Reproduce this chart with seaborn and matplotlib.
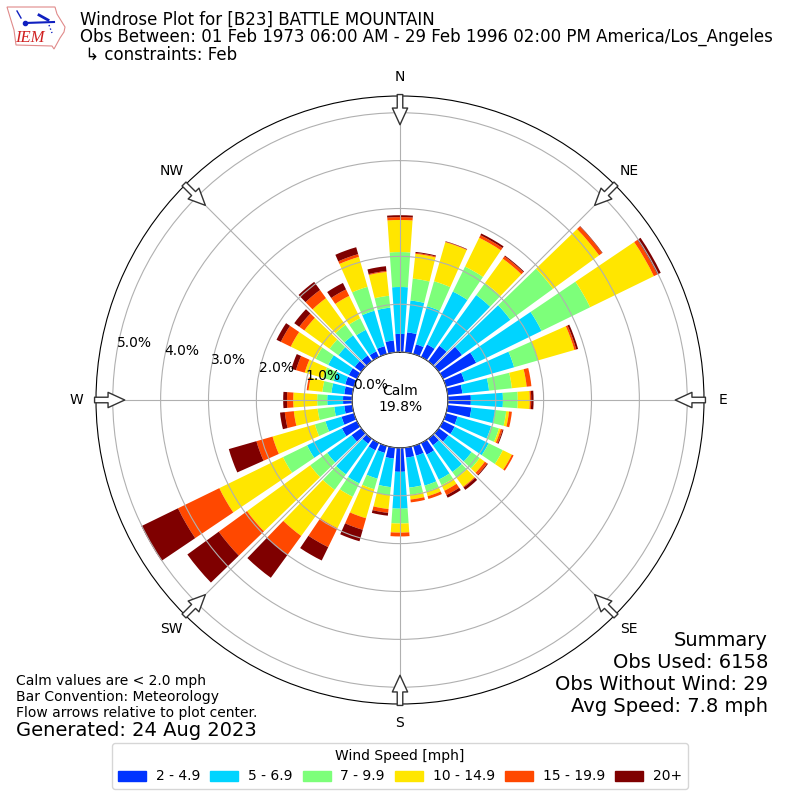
import numpy as np
import pandas as pd
import matplotlib
matplotlib.use('Agg')
import matplotlib.pyplot as plt
from matplotlib.patches import Patch, Polygon
import seaborn as sns

# %% data, percent of obs per direction and speed bin
directions = list(range(0, 360, 10))
spd_2_5 = [.38, .42, .21, .29, .40, .60, .77, .40, .31, .48, .50, .25, .27, .25, .17, .27, .21, .21,
           .50, .23, .15, .17, .13, .25, .35, .27, .17, .19, .17, .19, .19, .17, .15, .13, .17, .25]
spd_5_7 = [.98, .67, .83, 1.23, 1.31, 1.25, 1.52, 1.08, .56, .67, .50, .73, .79, .60, .69, .58, .65, .63,
           .77, .60, .56, .77, .79, .63, .81, .35, .21, .33, .27, .25, .48, .42, .52, .50, .77, .69]
spd_7_10 = [.73, .46, .54, .58, .31, 1.10, 1.13, .52, .48, .31, .23, .17, .33, .21, .15, .13, .13, .15,
            .31, .17, .23, .31, .40, .44, .56, .23, .35, .21, .19, .23, .29, .23, .27, .27, .52, .25]
spd_10_15 = [.67, .52, .85, .67, .63, 1.19, 1.48, .79, .31, .25, .06, .04, .21, .13, .23, .13, .10, .10,
             .19, .29, .63, .73, 1.19, 1.63, 1.48, .92, .50, .50, .29, .40, .58, .65, .69, .52, .65, .50]
spd_15_20 = [.06, .02, .01, .06, .06, .08, .08, .04, .10, .03, .06, .04, .04, .06, .02, .10, .06, .06,
             .08, .08, .25, .44, .48, .73, .96, .35, .19, .13, .04, .19, .23, .13, .21, .15, .06, .02]
spd_20 = [.04, .02, .01, .04, .02, .01, .08, .04, 0, .05, 0, .02, 0, .02, .06, .06, 0, 0,
          0, .06, .25, .31, .60, .81, .85, .60, .10, .08, 0, .10, .10, .13, .21, .15, .15, .10]

bin_labels = ['2 - 4.9', '5 - 6.9', '7 - 9.9', '10 - 14.9', '15 - 19.9', '20+']
bin_colors = ['#0033ff', '#00d4ff', '#7dff7a', '#ffe600', '#ff4800', '#7f0000']
compass = ['N', 'NE', 'E', 'SE', 'S', 'SW', 'W', 'NW']
r_ticks = [0, 1, 2, 3, 4, 5]

df = pd.DataFrame(
    np.array([spd_2_5, spd_5_7, spd_7_10, spd_10_15, spd_15_20, spd_20]).T,
    columns=bin_labels)
df['theta'] = np.deg2rad(directions)

palette = sns.color_palette(bin_colors)

fig = plt.figure(figsize=(8, 8), dpi=100)
ax = fig.add_axes([0.12, 0.12, 0.76, 0.76], projection='polar')
ax.set_theta_zero_location('N')
ax.set_theta_direction(-1)

bottom = np.zeros(len(df))
for label, color in zip(bin_labels, palette):
    sns.barplot(data=df, x='theta', y=label, native_scale=True, color=color, bottom=bottom,
                saturation=1, width=0.8, linewidth=0, edgecolor='none', ax=ax)
    bottom = bottom + df[label].values

ax.set_xlabel('')
ax.set_ylabel('')
ax.set_rorigin(-1)
ax.set_ylim(0, 5.35)
ax.set_xlim(0, 2 * np.pi)
ax.set_xticks(np.deg2rad(np.arange(0, 360, 45)))
ax.set_xticklabels(compass)
ax.set_yticks(r_ticks)
ax.set_yticklabels([f'{v:.1f}%' for v in r_ticks])
ax.set_rlabel_position(280)
ax.grid(True)
ax.set_axisbelow(False)

# flow arrows on the rim
for deg in range(0, 360, 45):
    ax.annotate('', xy=(np.deg2rad(deg), 4.75), xytext=(np.deg2rad(deg), 5.38),
                annotation_clip=False, zorder=6,
                arrowprops=dict(facecolor='white', edgecolor='#333333', linewidth=1,
                                width=4, headwidth=11, headlength=12, shrink=0))

# header
fig.text(80 / 800, 1 - 20 / 800, 'Windrose Plot for [B23] BATTLE MOUNTAIN', fontsize=12, va='center')
fig.text(80 / 800, 1 - 37 / 800, 'Obs Between: 01 Feb 1973 06:00 AM - 29 Feb 1996 02:00 PM America/Los_Angeles',
         fontsize=12, va='center')
fig.text(80 / 800, 1 - 55 / 800, ' ↳ constraints: Feb', fontsize=12, va='center')

fig.text(0.5, 1 - 399 / 800, 'Calm\n19.8%', ha='center', va='center', fontsize=10)

fig.text(16 / 800, 1 - 720 / 800, 'Calm values are < 2.0 mph\nBar Convention: Meteorology\nFlow arrows relative to plot center.',
         fontsize=10, va='bottom')
fig.text(16 / 800, 1 - 730 / 800, 'Generated: 24 Aug 2023', fontsize=14, va='center')
fig.text(768 / 800, 1 - 716 / 800, 'Summary\nObs Used: 6158\nObs Without Wind: 29\nAvg Speed: 7.8 mph',
         fontsize=14, ha='right', va='bottom')

handles = [Patch(color=c) for c in palette]
fig.legend(handles, bin_labels, title='Wind Speed [mph]', ncol=6, loc='lower center',
           bbox_to_anchor=(0.5, 0.005), fontsize=10, handletextpad=0.7, columnspacing=0.75)

# IEM logo
logo = fig.add_axes([0, 0, 1, 1], facecolor='none')
logo.set_xlim(0, 800)
logo.set_ylim(800, 0)
logo.axis('off')
iowa = [(7, 7), (55, 7), (57, 14), (65, 27), (64, 32), (60, 38), (54, 49), (52, 46), (16, 45), (14, 30), (10, 17)]
logo.add_patch(Polygon(iowa, closed=True, facecolor='white', edgecolor='#e08a8a', linewidth=0.8))
logo.plot([25, 54], [23, 22], color='#1020c0', linewidth=1.5)
logo.plot([39, 48], [15, 20], color='#1020c0', linewidth=2)
logo.plot([17, 21], [11, 18], color='#1020c0', linewidth=1)
logo.plot([49, 52], [25, 33], color='#1020c0', linewidth=1, linestyle=':')
logo.plot([25], [23], 'o', color='#1020c0', markersize=3)
logo.text(30, 38, 'IEM', color='#d02020', fontsize=12, family='Liberation Serif', style='italic',
          ha='center', va='center')

fig.savefig('out.png', dpi=100)
